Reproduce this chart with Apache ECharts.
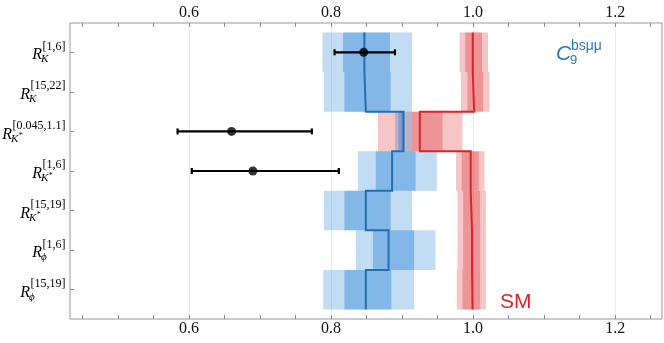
<!DOCTYPE html>
<html><head><meta charset="utf-8">
<script src="https://cdn.jsdelivr.net/npm/echarts@6/dist/echarts.min.js"></script>
<style>html,body{margin:0;padding:0;background:#fff}#c{width:664px;height:343px}</style>
</head><body><div id="c"></div>
<script>
// ---- data ----
const supLabels = ['[1,6]', '[15,22]', '[0.045,1.1]', '[1,6]', '[15,19]', '[1,6]', '[15,19]'];
const subLabels = ['K', 'K', 'K*', 'K*', 'K*', 'ϕ', 'ϕ'];

// C9 (bsμμ) new-physics predictions
const npCentral = [0.847, 0.849, 0.902, 0.886, 0.849, 0.881, 0.849];
const np1Lo = [0.817, 0.819, 0.895, 0.863, 0.819, 0.859, 0.819];
const np1Hi = [0.883, 0.884, 0.903, 0.919, 0.884, 0.917, 0.885];
const np2Lo = [0.788, 0.790, 0.890, 0.838, 0.790, 0.835, 0.789];
const np2Hi = [0.914, 0.914, 0.914, 0.949, 0.914, 0.947, 0.917];

// SM predictions
const smCentral = [0.9995, 1.0015, 0.925, 0.9966, 0.9985, 0.9985, 0.9992];
const sm1Lo = [0.989, 0.992, 0.914, 0.984, 0.986, 0.986, 0.985];
const sm1Hi = [1.0125, 1.014, 0.957, 1.008, 1.010, 1.010, 1.010];
const sm2Lo = [0.981, 0.983, 0.866, 0.976, 0.978, 0.978, 0.977];
const sm2Hi = [1.021, 1.023, 0.985, 1.016, 1.018, 1.018, 1.018];

// measurements
const expCentral = [0.846, null, 0.66, 0.69, null, null, null];
const expLo = [0.805, null, 0.584, 0.604, null, null, null];
const expHi = [0.890, null, 0.773, 0.811, null, null, null];

const xTicks = [0.45, 0.5, 0.55, 0.6, 0.65, 0.7, 0.75, 0.8, 0.85, 0.9, 0.95, 1.0, 1.05, 1.1, 1.15, 1.2, 1.25];
const xTickLabels = [0.6, 0.8, 1.0, 1.2];
const xMin = 0.4326, xMax = 1.2659;
const yMin = 0.26, yMax = 7.74;

// ---- helpers ----
const rowIdx = supLabels.map((_, i) => i + 1);
const SERIF = '"Liberation Serif"';
const SANS = '"Liberation Sans"';
const mctx = document.createElement('canvas').getContext('2d');
function measure(t, font) { mctx.font = font; return mctx.measureText(t).width; }

function bandSeries(lo, hi, color, z) {
  return {
    type: 'custom', silent: true, clip: false, z: z,
    data: lo.map((l, i) => [l, hi[i], i + 1]),
    encode: { x: [0, 1], y: 2 },
    renderItem(params, api) {
      const r = api.value(2);
      const a = api.coord([api.value(0), r - 0.5]);
      const b = api.coord([api.value(1), r + 0.5]);
      return { type: 'rect', shape: { x: a[0], y: Math.min(a[1], b[1]), width: b[0] - a[0], height: Math.abs(b[1] - a[1]) },
        style: { fill: color } };
    }
  };
}
function stepPoints(c) {
  const pts = [];
  c.forEach((v, i) => { pts.push([v, i + 0.5]); pts.push([v, i + 1.5]); });
  return pts;
}

const SUPF = '12px ' + SERIF;
const RF = 'italic 16px ' + SERIF;
const SUBF = 'italic 11px ' + SERIF;

const labelSeries = {
  type: 'custom', silent: true, clip: false, z: 20,
  data: rowIdx.map(r => [xMin, r]),
  renderItem(params, api) {
    const i = params.dataIndex;
    const p = api.coord([api.value(0), api.value(1)]);
    const xr = p[0] - 4.5, y0 = p[1];
    const sup = supLabels[i];
    const supW = measure(sup, SUPF);
    const sub = subLabels[i];
    const letter = sub.replace('*', '');
    const star = sub.indexOf('*') >= 0;
    const subX = xr - supW - 1.5;
    const children = [
      { type: 'text', style: { text: sup, x: xr, y: y0 - 5.8, font: SUPF, fill: '#000', align: 'right', textAlign: 'right', verticalAlign: 'middle', textVerticalAlign: 'middle' } },
      { type: 'text', style: { text: 'R', x: xr - supW - 0.5, y: y0 + 3, font: RF, fill: '#000', align: 'right', textAlign: 'right', verticalAlign: 'middle', textVerticalAlign: 'middle' } },
      { type: 'text', style: { text: letter, x: subX, y: y0 + 7.3, font: SUBF, fill: '#000', align: 'left', textAlign: 'left', verticalAlign: 'middle', textVerticalAlign: 'middle' } }
    ];
    if (star) {
      children.push({ type: 'text', style: { text: '*', x: subX + measure(letter, SUBF) + 0.5, y: y0 + 4.5, font: '8px ' + SERIF, fill: '#000', align: 'left', textAlign: 'left', verticalAlign: 'middle', textVerticalAlign: 'middle' } });
    }
    return { type: 'group', children };
  }
};

const gridLineSeries = {
  type: 'custom', silent: true, z: 0,
  data: xTickLabels.map(v => [v, 1]),
  renderItem(params, api) {
    const cs = params.coordSys;
    const x = Math.round(api.coord([api.value(0), 1])[0]) + 0.5;
    return { type: 'line', shape: { x1: x, y1: cs.y, x2: x, y2: cs.y + cs.height }, style: { stroke: '#ebebeb', lineWidth: 1 } };
  }
};

const expIdx = rowIdx.filter((r, i) => expCentral[i] != null);
const errSeries = {
  type: 'custom', silent: true, clip: false, z: 15,
  data: expIdx.map(r => [expLo[r - 1], expHi[r - 1], r]),
  encode: { x: [0, 1], y: 2 },
  renderItem(params, api) {
    const r = api.value(2);
    const a = api.coord([api.value(0), r]);
    const b = api.coord([api.value(1), r]);
    const st = { stroke: '#000', lineWidth: 2.2 };
    return { type: 'group', children: [
      { type: 'line', shape: { x1: a[0], y1: a[1], x2: b[0], y2: b[1] }, style: st },
      { type: 'line', shape: { x1: a[0], y1: a[1] - 3, x2: a[0], y2: a[1] + 3 }, style: st },
      { type: 'line', shape: { x1: b[0], y1: b[1] - 3, x2: b[0], y2: b[1] + 3 }, style: st }
    ] };
  }
};

function xAxisDef(pos) {
  return {
    type: 'value', position: pos, min: xMin, max: xMax,
    axisLine: { show: false }, splitLine: { show: false },
    axisTick: { show: true, inside: true, length: 4, customValues: xTicks, lineStyle: { color: '#8a8a8a' } },
    axisLabel: { customValues: xTickLabels, formatter: v => v.toFixed(1), fontFamily: 'Liberation Serif', fontSize: 16, color: '#111', margin: 2 }
  };
}

const BLUE = '20,120,210', RED = '220,40,45';
const option = {
  animation: false,
  grid: { left: 70, top: 23, width: 592, height: 296, show: true, borderColor: '#9a9a9a', borderWidth: 1, backgroundColor: 'transparent' },
  xAxis: [xAxisDef('bottom'), xAxisDef('top')],
  yAxis: {
    type: 'value', inverse: true, min: yMin, max: yMax,
    axisLine: { show: false }, splitLine: { show: false },
    axisLabel: { show: false },
    axisTick: { show: true, inside: true, length: 4, customValues: rowIdx, lineStyle: { color: '#8a8a8a' } }
  },
  series: [
    gridLineSeries,
    bandSeries(sm2Lo, sm2Hi, 'rgba(' + RED + ',0.27)', 2),
    bandSeries(sm1Lo, sm1Hi, 'rgba(' + RED + ',0.31)', 3),
    bandSeries(np2Lo, np2Hi, 'rgba(' + BLUE + ',0.26)', 4),
    bandSeries(np1Lo, np1Hi, 'rgba(' + BLUE + ',0.365)', 5),
    { type: 'line', data: stepPoints(smCentral), symbol: 'none', silent: true, z: 8,
      lineStyle: { color: '#d7262b', width: 2, join: 'miter' } },
    { type: 'line', data: stepPoints(npCentral), symbol: 'none', silent: true, z: 9,
      lineStyle: { color: '#1f6fb2', width: 2, join: 'miter' } },
    errSeries,
    { type: 'scatter', data: expIdx.map(r => [expCentral[r - 1], r]), symbolSize: 9, itemStyle: { color: '#000' }, silent: true, z: 16 },
    labelSeries
  ],
  graphic: [
    { type: 'text', style: { text: 'C', x: 556, y: 53.7, font: 'italic 21px ' + SANS, fill: '#2a78b8', textVerticalAlign: 'middle', verticalAlign: 'middle' } },
    { type: 'text', style: { text: '9', x: 570, y: 60.5, font: '13px ' + SANS, fill: '#2a78b8', textVerticalAlign: 'middle', verticalAlign: 'middle' } },
    { type: 'text', style: { text: 'bsμμ', x: 571, y: 45.9, font: '14px ' + SANS, fill: '#2a78b8', textVerticalAlign: 'middle', verticalAlign: 'middle' } },
    { type: 'text', style: { text: 'SM', x: 500, y: 302, font: '21px ' + SANS, fill: '#d8262b', textVerticalAlign: 'middle', verticalAlign: 'middle' } }
  ]
};
const chart = echarts.init(document.getElementById('c'));
chart.setOption(option);
</script></body></html>
